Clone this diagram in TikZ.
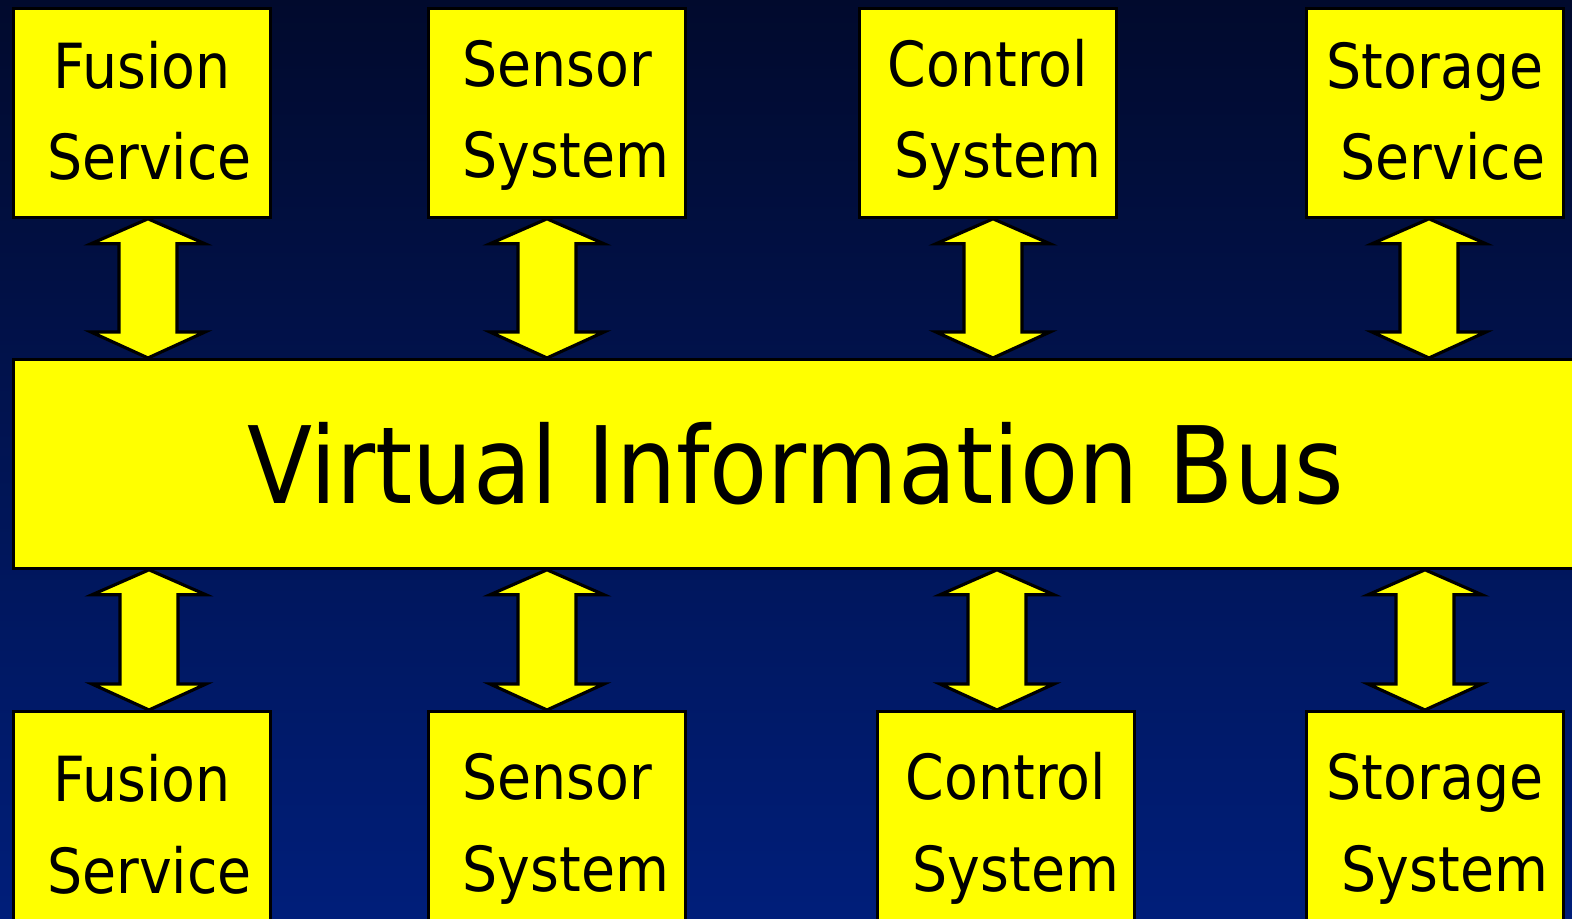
\documentclass[tikz,border=0pt]{standalone}
\usepackage{fontspec}
\setmainfont{DejaVu Sans}[FakeStretch=0.89]
\usetikzlibrary{calc}

\definecolor{bgtop}{RGB}{1,10,45}
\definecolor{bgbot}{RGB}{0,30,122}
\definecolor{boxyellow}{RGB}{255,255,0}

% strut that keeps both text lines at the same height in every box
\newcommand{\lstrut}{\rule[-0.09cm]{0pt}{0.6cm}}

% double block arrow from the south side of #2 to the north side of #3, at x=#1
\newcommand{\linkat}[3]{%
	\pgfmathsetmacro{\lx}{#1}
	\draw[link] let \p1=(#2.south), \p2=(#3.north) in
		({\lx cm},\y1) -- ({\lx cm+0.57cm},{\y1-0.25cm}) -- ({\lx cm+0.29cm},{\y1-0.25cm})
		-- ({\lx cm+0.29cm},{\y2+0.26cm}) -- ({\lx cm+0.57cm},{\y2+0.26cm}) -- ({\lx cm},\y2)
		-- ({\lx cm-0.57cm},{\y2+0.26cm}) -- ({\lx cm-0.29cm},{\y2+0.26cm})
		-- ({\lx cm-0.29cm},{\y1-0.25cm}) -- ({\lx cm-0.57cm},{\y1-0.25cm}) -- cycle;
}

\begin{document}
\begin{tikzpicture}[
	box/.style={draw=black, line width=0.8pt, fill=boxyellow, anchor=north west, inner sep=0pt,
		minimum width=2.57cm, minimum height=2.09cm, align=center,
		font=\fontsize{17.7pt}{26pt}\selectfont},
	link/.style={fill=boxyellow, draw=black, line width=0.9pt, line join=miter}]

	\useasboundingbox (0,0) rectangle (15.72,-9.19);
	\shade[top color=bgtop, bottom color=bgbot] (0,0) rectangle (15.72,-9.19);
	\clip (0,0) rectangle (15.72,-9.19);

	% upper row
	\def\rowA{-0.07}
	\node[box] (fusA) at (0.12,\rowA) {Fusion\lstrut\\\hspace{0.15cm}Service\lstrut};
	\node[box] (senA) at (4.27,\rowA) {Sensor\lstrut\\\hspace{0.18cm}System\lstrut};
	\node[box] (conA) at (8.58,\rowA) {Control\lstrut\\\hspace{0.2cm}System\lstrut};
	\node[box] (stoA) at (13.05,\rowA) {Storage\lstrut\\\hspace{0.16cm}Service\lstrut};

	% the bus
	\node[box, minimum width=15.64cm, font=\fontsize{30.4pt}{36pt}\selectfont] (bus) at (0.12,-3.58) {Virtual Information Bus};

	% lower row
	\def\rowB{-7.10}
	\node[box, minimum height=2.3cm] (fusB) at (0.12,\rowB) {Fusion\lstrut\\\hspace{0.15cm}Service\lstrut};
	\node[box, minimum height=2.3cm] (senB) at (4.27,\rowB) {Sensor\lstrut\\\hspace{0.18cm}System\lstrut};
	\node[box, minimum height=2.3cm] (conB) at (8.76,\rowB) {Control\lstrut\\\hspace{0.2cm}System\lstrut};
	\node[box, minimum height=2.3cm] (stoB) at (13.05,\rowB) {Storage\lstrut\\\hspace{0.2cm}System\lstrut};

	\foreach \ax/\a in {1.48/fusA, 5.47/senA, 9.93/conA, 14.29/stoA}
	{
		\linkat{\ax}{\a}{bus}
	}
	\foreach \ax/\b in {1.49/fusB, 5.47/senB, 9.97/conB, 14.25/stoB}
	{
		\linkat{\ax}{bus}{\b}
	}
\end{tikzpicture}
\end{document}
